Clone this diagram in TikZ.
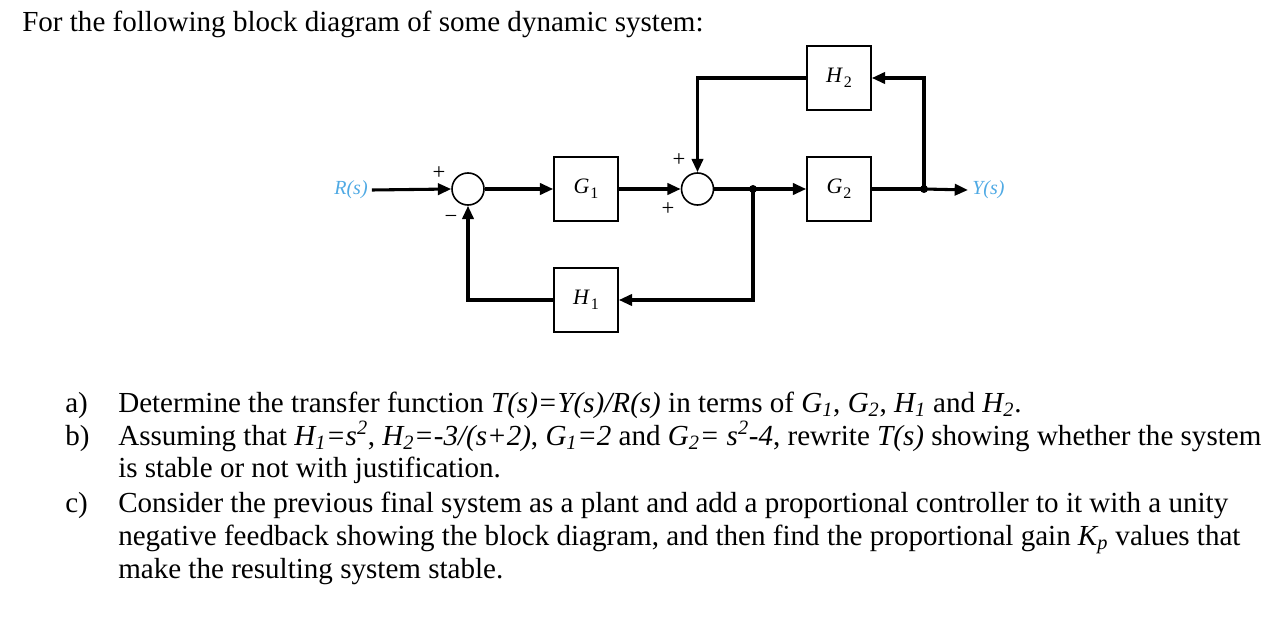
\documentclass[tikz,border=0pt]{standalone}
\usepackage{fontspec}
\setmainfont{Liberation Serif}
\usetikzlibrary{arrows.meta,calc}
\definecolor{lblue}{RGB}{80,170,228}
\newcommand\sbx[1]{\textsubscript{#1}}
\newcommand\spx[1]{\textsuperscript{#1}}
\newcommand\dsub[1]{\kern0.6pt\raisebox{-4pt}{\fontsize{12}{12}\selectfont #1}}
\begin{document}
\begin{tikzpicture}[x=0.75pt,y=-0.75pt,
  blk/.style={draw,line width=1.2pt,minimum width=48pt,minimum height=48pt,inner sep=0pt,font=\fontsize{16.5}{18}\selectfont},
  sumc/.style={draw,circle,line width=1.2pt,minimum size=24pt,inner sep=0pt},
  sig/.style={line width=2.3pt,-{Triangle[length=10pt,width=8.5pt]}},
  wire/.style={line width=2.3pt},
  sgn/.style={font=\fontsize{17}{18}\selectfont,inner sep=0pt},
  lbl/.style={text=lblue,font=\fontsize{15}{17}\selectfont\itshape,inner sep=3pt},
  txt/.style={anchor=base west,inner sep=0pt,font=\fontsize{21.8}{25}\selectfont}]
\useasboundingbox (0,0) rectangle (1278,624);
% diagram
\node[lbl] (R) at (351,190) {R(s)};
\node[sumc] (c1) at (468,189) {};
\node[blk] (G1) at (586,189) {\textit{G}\dsub{1}};
\node[sumc] (c2) at (697.5,189) {};
\coordinate (b1) at (753,189);
\node[blk] (G2) at (839,189) {\textit{G}\dsub{2}};
\coordinate (b2) at (924,189);
\node[lbl,anchor=west] (Y) at (968,190) {Y(s)};
\node[blk] (H2) at (839,78) {\textit{H}\dsub{2}};
\node[blk] (H1) at (586,300) {\textit{H}\dsub{1}};
\draw[sig] (R.east) -- (c1.west);
\draw[sig] (c1.east) -- (G1.west);
\draw[sig] (G1.east) -- (c2.west);
\draw[wire] (c2.east) -- (b1);
\draw[sig] (b1) -- (G2.west);
\draw[wire] (G2.east) -- (b2);
\draw[sig] (b2) -- (Y.west);
\draw[sig] (b2) |- (H2.east);
\draw[sig] (H2.west) -| (c2.north);
\draw[sig] (b1) |- (H1.east);
\draw[sig] (H1.west) -| (c1.south);
\fill (b1) circle (3pt);
\fill (b2) circle (3pt);
\node[sgn] (p1) at (439,173) {+};
\node[sgn] (m1) at (451,219) {\textminus};
\node[sgn] (p2) at (679,160) {+};
\node[sgn] (p3) at (668,209) {+};
% text
\node[txt] (t0) at (22,32) {For the following block diagram of some dynamic system:};
\node[txt] (la) at (65,412) {a)};
\node[txt] (ta) at (118,412) {Determine the transfer function \textit{T(s)=Y(s)/R(s)} in terms of \textit{G\sbx{1}}, \textit{G\sbx{2}}, \textit{H\sbx{1}} and \textit{H\sbx{2}}.};
\node[txt] (lb) at (65,445) {b)};
\node[txt] (tb) at (118,445) {Assuming that \textit{H\sbx{1}=s\spx{2}}, \textit{H\sbx{2}=-3/(s+2)}, \textit{G\sbx{1}=2} and \textit{G\sbx{2}= s\spx{2}-4}, rewrite \textit{T(s)} showing whether the system};
\node[txt] (tb2) at (118,477) {is stable or not with justification.};
\node[txt] (lc) at (65,512) {c)};
\node[txt] (tc) at (118,512) {Consider the previous final system as a plant and add a proportional controller to it with a unity};
\node[txt] (tc2) at (118,545) {negative feedback showing the block diagram, and then find the proportional gain \textit{K\sbx{p}} values that};
\node[txt] (tc3) at (118,578) {make the resulting system stable.};
\end{tikzpicture}
\end{document}
